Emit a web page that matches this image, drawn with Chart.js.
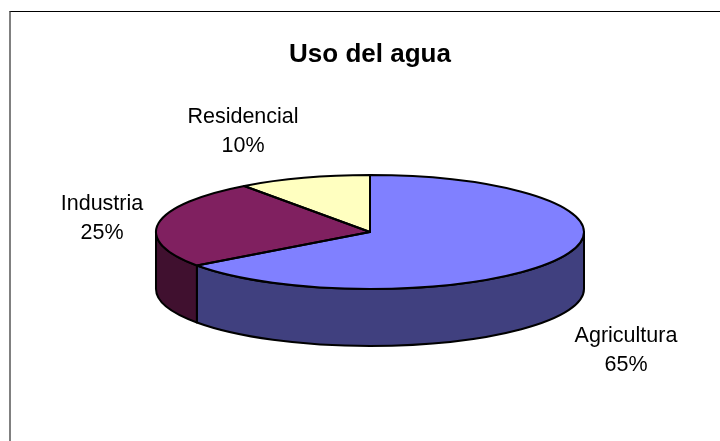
<!DOCTYPE html>
<html>
<head>
<meta charset="utf-8">
<title>Uso del agua</title>
<script src="https://cdn.jsdelivr.net/npm/chart.js@4"></script>
<style>
  html, body { margin: 0; background: #fff; }
  #box { position: relative; width: 720px; height: 441px; overflow: hidden; }
  #frame { position: absolute; left: 9px; top: 11px; width: 720px; height: 460px;
    border-left: 2px solid #808080; border-top: 1px solid #000; }
</style>
</head>
<body>
<div id="box">
  <canvas id="chart" width="720" height="441"></canvas>
  <div id="frame"></div>
</div>
<script>
const categories = ['Agricultura', 'Industria', 'Residencial'];
const shares = [65, 25, 10];
const topColors = ['#8080ff', '#802060', '#ffffc0'];
const sideColors = ['#40407f', '#40102f', '#80805f'];

// the pie is flattened after the library lays it out
const centerY = 232;
const squash = 0.266;
const depth = 57;
const labelSpots = [[626, 336], [102, 204], [243, 117]];

function flatten(ctx, arc) {
  ctx.translate(0, centerY);
  ctx.scale(1, squash);
  ctx.translate(0, -arc.y);
}

function outline(ctx) {
  ctx.strokeStyle = '#000';
  ctx.lineWidth = 2;
  ctx.lineJoin = 'round';
  ctx.stroke();
}

const pie3d = {
  id: 'pie3d',
  beforeDatasetDraw(chart, args) {
    const ctx = chart.ctx;
    const arcs = args.meta.data;

    // wall: only the part of each slice that faces the viewer (angles 0 to PI)
    arcs.forEach((arc, i) => {
      const from = Math.max(arc.startAngle, 0);
      const to = Math.min(arc.endAngle, Math.PI);
      if (from >= to) return;
      ctx.save();
      flatten(ctx, arc);
      ctx.beginPath();
      ctx.arc(arc.x, arc.y + depth / squash, arc.outerRadius, from, to);
      ctx.arc(arc.x, arc.y, arc.outerRadius, to, from, true);
      ctx.closePath();
      ctx.restore();
      ctx.fillStyle = sideColors[i];
      ctx.fill();
      outline(ctx);
    });

    ctx.save();
    flatten(ctx, arcs[0]);
  },
  afterDatasetDraw(chart, args) {
    const ctx = chart.ctx;
    ctx.restore();
    // outlines traced in the flattened space but stroked in screen space, so the pen stays even
    args.meta.data.forEach(arc => {
      ctx.save();
      flatten(ctx, arc);
      ctx.beginPath();
      ctx.moveTo(arc.x, arc.y);
      ctx.arc(arc.x, arc.y, arc.outerRadius, arc.startAngle, arc.endAngle);
      ctx.closePath();
      ctx.restore();
      outline(ctx);
    });
  },
  afterDraw(chart) {
    const ctx = chart.ctx;
    ctx.save();
    ctx.fillStyle = '#000';
    ctx.font = '21.5px "Liberation Sans", Arial, sans-serif';
    ctx.textAlign = 'center';
    ctx.textBaseline = 'middle';
    const total = shares.reduce((a, b) => a + b, 0);
    categories.forEach((name, i) => {
      const [lx, ly] = labelSpots[i];
      ctx.fillText(name, lx, ly);
      ctx.fillText(Math.round(shares[i] / total * 100) + '%', lx, ly + 29);
    });
    ctx.restore();
  }
};

new Chart(document.getElementById('chart'), {
  type: 'pie',
  data: {
    labels: categories,
    datasets: [{
      data: shares,
      backgroundColor: topColors,
      borderWidth: 0,
      radius: 214,
    }],
  },
  options: {
    responsive: false,
    animation: false,
    layout: { padding: { left: 20, right: 0, top: 0, bottom: 0 } },
    plugins: {
      legend: { display: false },
      tooltip: { enabled: false },
      title: {
        display: true,
        text: 'Uso del agua',
        color: '#000',
        font: { family: '"Liberation Sans", Arial, sans-serif', size: 26, weight: 'bold' },
        padding: { top: 39, bottom: 8 },
      },
    },
  },
  plugins: [pie3d],
});
</script>
</body>
</html>
